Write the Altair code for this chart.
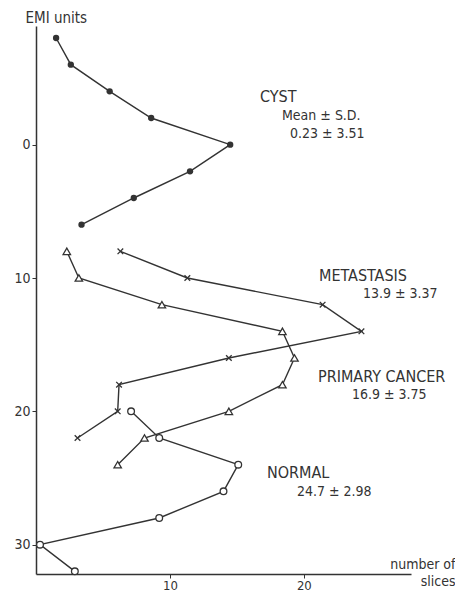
import altair as alt
import pandas as pd

# EMI units (y, increasing downward) and number of slices (x) for each group
cyst_emi = [-8, -6, -4, -2, 0, 2, 4, 6]
cyst_n = [1.5, 2.6, 5.5, 8.6, 14.5, 11.5, 7.3, 3.4]

meta_emi = [8, 10, 12, 14, 16, 18, 20, 22]
meta_n = [6.3, 11.3, 21.4, 24.3, 14.4, 6.2, 6.1, 3.1]

prim_emi = [8, 10, 12, 14, 16, 18, 20, 22, 24]
prim_n = [2.3, 3.2, 9.4, 18.4, 19.3, 18.4, 14.4, 8.1, 6.1]

norm_emi = [20, 22, 24, 26, 28, 30, 32]
norm_n = [7.1, 9.2, 15.1, 14.0, 9.2, 0.3, 2.9]

x_ticks = [10, 20]
y_ticks = [0, 10, 20, 30]

FONT = "DejaVu Sans Condensed, DejaVu Sans"
INK = "#333333"
OX, OY = 36, 26  # page position of plot origin

def frame(emi, n, name):
    return pd.DataFrame({"emi": emi, "n": n, "group": name})

cyst = frame(cyst_emi, cyst_n, "cyst")
meta = frame(meta_emi, meta_n, "meta")
prim = frame(prim_emi, prim_n, "prim")
norm = frame(norm_emi, norm_n, "norm")

xs = alt.Scale(domain=[0, 28], nice=False, zero=False)
ys = alt.Scale(domain=[-8.9, 32.2], reverse=True, nice=False, zero=False)

xenc = alt.X("n:Q", scale=xs, axis=alt.Axis(
    values=x_ticks, grid=False, domainColor=INK, domainWidth=1.5, tickColor=INK,
    tickSize=4, labelFont=FONT, labelFontSize=13, labelColor=INK, labelPadding=1,
    title=["number of", "slices"], titleFont=FONT, titleFontSize=14,
    titleFontWeight="normal", titleColor=INK, titleAlign="right",
    titleAnchor="end", titleX=419, titleY=-10, titleBaseline="middle", titleLineHeight=17))
yenc = alt.Y("emi:Q", scale=ys, axis=alt.Axis(
    values=y_ticks, grid=False, domainColor=INK, domainWidth=1.5, tickColor=INK,
    tickSize=4, labelFont=FONT, labelFontSize=14, labelColor=INK, labelPadding=2,
    title="EMI units", titleFont=FONT, titleFontSize=15, titleFontWeight="normal",
    titleColor=INK, titleAngle=0, titleAlign="left", titleBaseline="middle",
    titleX=-11, titleY=-9))

def series(df, point):
    line = alt.Chart(df).mark_line(color=INK, strokeWidth=1.4).encode(
        x=xenc, y=yenc, order=alt.Order("emi:Q"))
    return line + point

cross_path = "M-0.8,-0.8L0.8,0.8M-0.8,0.8L0.8,-0.8"

layers = [
    series(cyst, alt.Chart(cyst).mark_point(shape="circle", filled=True, size=40,
                                            color=INK, opacity=1).encode(x=xenc, y=yenc)),
    series(meta, alt.Chart(meta).mark_point(shape=cross_path, filled=False, size=50,
                                            color=INK, strokeWidth=1.3, opacity=1).encode(x=xenc, y=yenc)),
    series(prim, alt.Chart(prim).mark_point(shape="triangle-up", filled=True, size=55,
                                            fill="white", stroke=INK, strokeWidth=1.3,
                                            opacity=1).encode(x=xenc, y=yenc)),
    series(norm, alt.Chart(norm).mark_point(shape="circle", filled=True, size=45,
                                            fill="white", stroke=INK, strokeWidth=1.3,
                                            opacity=1).encode(x=xenc, y=yenc)),
]

# annotation texts, page coordinates (left edge, vertical centre)
ann = [
    ("CYST", 260, 97, 16),
    ("Mean ± S.D.", 282, 116, 14),
    ("0.23 ± 3.51", 290, 134, 14),
    ("METASTASIS", 319, 276, 16),
    ("13.9 ± 3.37", 363, 294, 14),
    ("PRIMARY CANCER", 318, 377, 16),
    ("16.9 ± 3.75", 352, 395, 14),
    ("NORMAL", 267, 473, 16),
    ("24.7 ± 2.98", 297, 492, 14),
]
for txt, px, py, fs in ann:
    layers.append(alt.Chart(pd.DataFrame({"t": [txt]})).mark_text(
        align="left", baseline="middle", font=FONT, fontSize=fs, color=INK).encode(
        text="t:N", x=alt.value(px - OX), y=alt.value(py - OY)))

chart = alt.layer(*layers).properties(
    width=375, height=548,
    background="white",
    autosize=alt.AutoSizeParams(type="none"),
    padding={"left": 28, "top": 18, "right": 44, "bottom": 18},
).configure_view(stroke=None)

chart.save("out.html", embed_options={"renderer": "svg", "actions": False})
